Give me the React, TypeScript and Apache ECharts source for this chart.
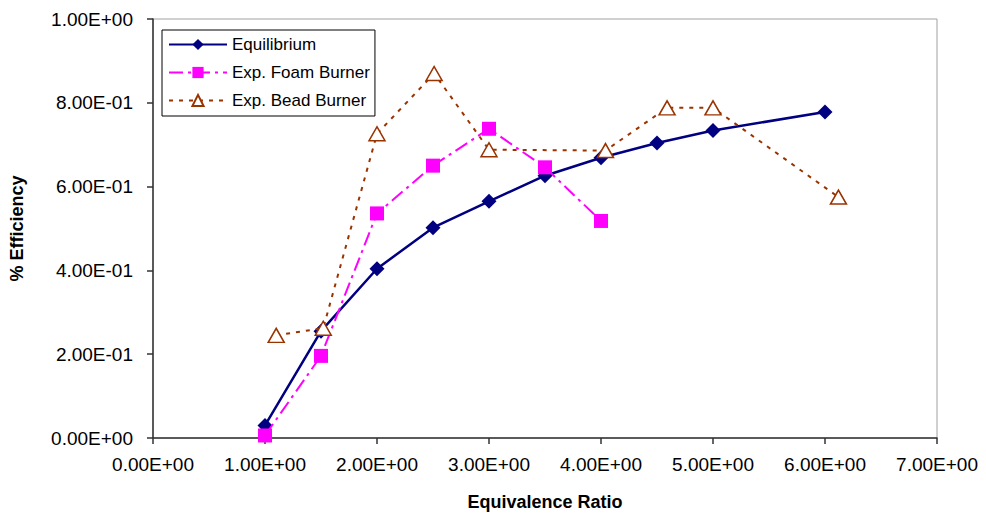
import React, { useEffect, useRef } from "react";
import * as echarts from "echarts";

const equilX = [1.0, 1.5, 2.0, 2.5, 3.0, 3.5, 4.0, 4.5, 5.0, 6.0];
const equilY = [0.03, 0.255, 0.404, 0.502, 0.565, 0.626, 0.669, 0.704, 0.734, 0.778];

const foamX = [1.0, 1.5, 2.0, 2.5, 3.0, 3.5, 4.0];
const foamY = [0.006, 0.196, 0.536, 0.65, 0.738, 0.646, 0.518];

const beadX = [1.1, 1.52, 2.0, 2.51, 3.0, 4.04, 4.59, 5.0, 6.12];
const beadY = [0.245, 0.262, 0.726, 0.87, 0.688, 0.686, 0.788, 0.788, 0.575];

const seriesNames = ["Equilibrium", "Exp. Foam Burner", "Exp. Bead Burner"];

const xTickLabels = [
  "0.00E+00", "1.00E+00", "2.00E+00", "3.00E+00",
  "4.00E+00", "5.00E+00", "6.00E+00", "7.00E+00",
];
const yTickLabels = [
  "0.00E+00", "2.00E-01", "4.00E-01", "6.00E-01", "8.00E-01", "1.00E+00",
];

const xTitle = "Equivalence Ratio";
const yTitle = "% Efficiency";

const FONT = "Arial, 'Liberation Sans', sans-serif";

function pairs(xs: number[], ys: number[]) {
  return xs.map((x, i) => [x, ys[i]]);
}

export default function App() {
  const ref = useRef<HTMLDivElement>(null);

  useEffect(() => {
    document.body.style.margin = "0";
    if (!ref.current) return;
    const chart = echarts.init(ref.current, undefined, { renderer: "svg" });
    chart.setOption({
      animation: false,
      backgroundColor: "#ffffff",
      textStyle: { fontFamily: FONT },
      grid: {
        left: 153,
        right: 49,
        top: 19,
        bottom: 73,
        show: true,
        borderColor: "#a0a0a0",
        borderWidth: 1,
        backgroundColor: "transparent",
      },
      legend: {
        orient: "vertical",
        left: 162,
        top: 30,
        padding: [6, 5, 7, 6],
        itemWidth: 58,
        itemHeight: 14,
        itemGap: 11,
        backgroundColor: "#ffffff",
        borderColor: "#000000",
        borderWidth: 1,
        borderRadius: 0,
        data: seriesNames,
        textStyle: {
          fontFamily: FONT,
          fontSize: 17,
          lineHeight: 17,
          color: "#000000",
        },
      },
      xAxis: {
        type: "value",
        min: 0,
        max: 7,
        interval: 1,
        name: xTitle,
        nameLocation: "middle",
        nameGap: 55,
        nameTextStyle: {
          fontFamily: FONT,
          fontSize: 18,
          fontWeight: "bold",
          color: "#000000",
        },
        axisLine: { show: true, lineStyle: { color: "#333333", width: 1.5 } },
        axisTick: { show: true, inside: false, length: 6, lineStyle: { color: "#333333", width: 1.5 } },
        splitLine: { show: false },
        axisLabel: {
          margin: 17,
          fontFamily: FONT,
          fontSize: 19,
          color: "#000000",
          formatter: (v: number) => xTickLabels[Math.round(v)] ?? "",
        },
      },
      yAxis: {
        type: "value",
        min: 0,
        max: 1,
        interval: 0.2,
        name: yTitle,
        nameLocation: "middle",
        nameGap: 127,
        nameTextStyle: {
          fontFamily: FONT,
          fontSize: 18,
          fontWeight: "bold",
          color: "#000000",
        },
        axisLine: { show: true, lineStyle: { color: "#333333", width: 1.5 } },
        axisTick: { show: true, inside: false, length: 6, lineStyle: { color: "#333333", width: 1.5 } },
        splitLine: { show: false },
        axisLabel: {
          margin: 20,
          fontFamily: FONT,
          fontSize: 19,
          color: "#000000",
          formatter: (v: number) => yTickLabels[Math.round(v / 0.2)] ?? "",
        },
      },
      series: [
        {
          name: seriesNames[0],
          type: "line",
          data: pairs(equilX, equilY),
          symbol: "diamond",
          symbolSize: 15,
          color: "#000080",
          lineStyle: { color: "#000080", width: 2.5, type: "solid" },
          itemStyle: { color: "#000080" },
          z: 2,
        },
        {
          name: seriesNames[1],
          type: "line",
          data: pairs(foamX, foamY),
          symbol: "rect",
          symbolSize: 14,
          color: "#ff00ff",
          lineStyle: { color: "#ff00ff", width: 2, type: [14, 5, 3, 5] },
          itemStyle: { color: "#ff00ff" },
          z: 3,
        },
        {
          name: seriesNames[2],
          type: "line",
          data: pairs(beadX, beadY),
          symbol: "triangle",
          symbolSize: [16, 14],
          color: "#993300",
          lineStyle: { color: "#993300", width: 2, type: [4, 6] },
          itemStyle: { color: "#ffffff", borderColor: "#993300", borderWidth: 1.5 },
          z: 4,
        },
      ],
    });
    return () => chart.dispose();
  }, []);

  return <div ref={ref} style={{ width: 986, height: 516 }} />;
}
